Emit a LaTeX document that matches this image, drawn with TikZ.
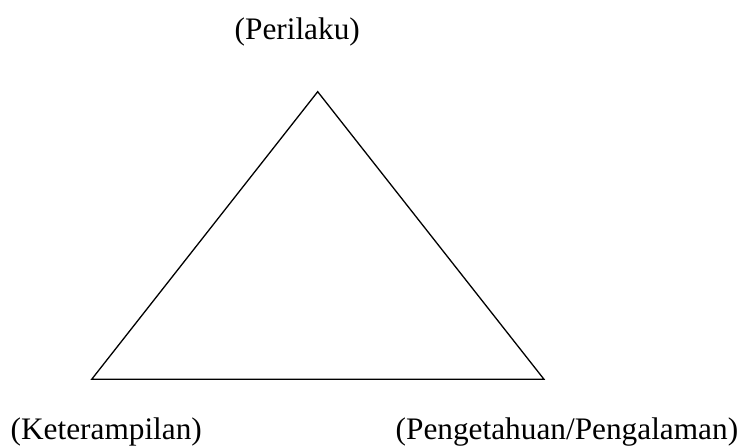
\documentclass[tikz,border=0pt]{standalone}
\usepackage{fontspec}
\setmainfont{Liberation Serif}
\begin{document}
\begin{tikzpicture}[x=1pt,y=-1pt,
  lbl/.style={anchor=base west,inner sep=0pt,font=\fontsize{31.3}{36}\selectfont},
  edge/.style={line width=1.3pt,line join=miter}]
\useasboundingbox (0,0) rectangle (748,447);
\coordinate (top) at (317.7,91.7);
\coordinate (bl) at (91.7,379.3);
\coordinate (br) at (544,379.3);
\draw[edge] (top) -- (bl) -- (br) -- cycle;
\node[lbl] (perilaku) at (234.5,39.5) {(Perilaku)};
\node[lbl] (ketrampilan) at (10.5,439.5) {(Keterampilan)};
\node[lbl] (pengetahuan) at (395.5,439.5) {(Pengetahuan/Pengalaman)};
\end{tikzpicture}
\end{document}
